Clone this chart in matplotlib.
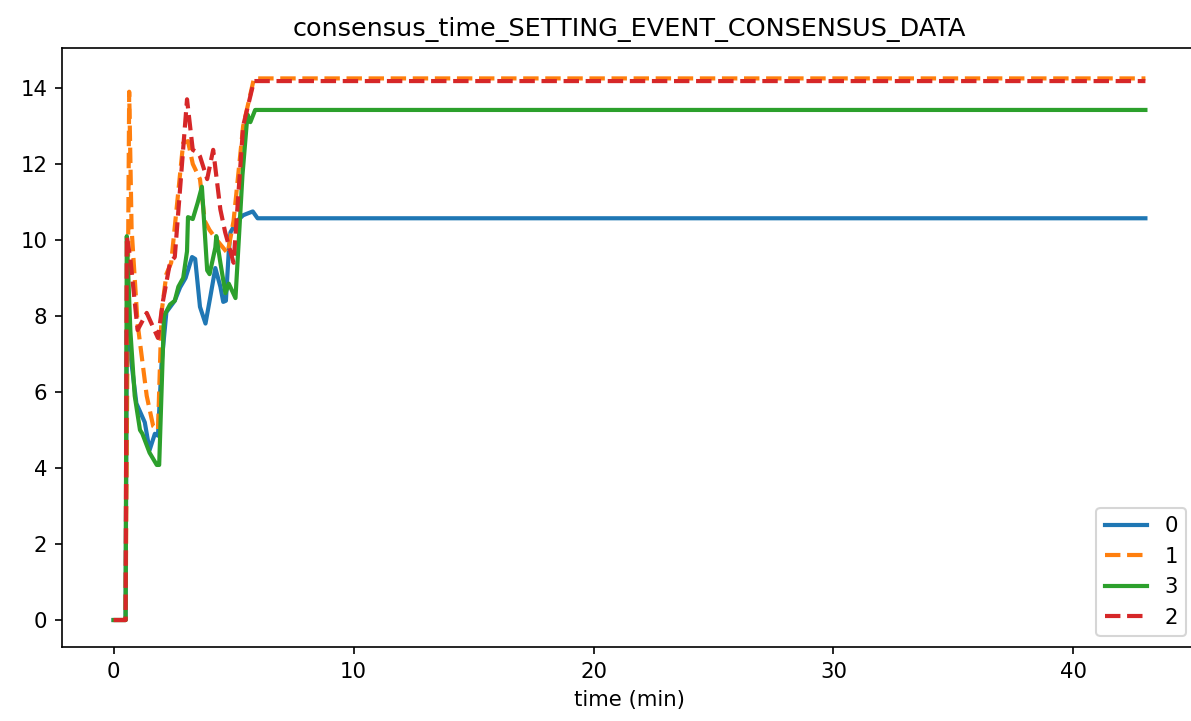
import matplotlib
matplotlib.use("Agg")
import matplotlib.pyplot as plt

title = "consensus_time_SETTING_EVENT_CONSENSUS_DATA"
xlabel = "time (min)"
t_end = 43.0

# series "0"
x0 = [0, 0.5, 0.55, 0.7, 0.95, 1.3, 1.5, 1.72, 1.85, 2.0, 2.2, 2.55, 2.77, 3.0, 3.27, 3.4,
      3.6, 3.83, 4.03, 4.24, 4.45, 4.57, 4.68, 4.8, 4.87, 5.15, 5.4, 5.6, 5.8, 6.0, t_end]
y0 = [0, 0, 7.6, 7.0, 5.7, 5.2, 4.47, 4.9, 4.85, 6.76, 8.1, 8.4, 8.75, 9.0, 9.55, 9.5,
      8.24, 7.8, 8.5, 9.26, 8.77, 8.37, 8.4, 9.7, 10.2, 10.5, 10.65, 10.7, 10.75, 10.57, 10.57]

# series "1"
x1 = [0, 0.5, 0.65, 0.75, 1.0, 1.38, 1.65, 1.85, 2.0, 2.2, 2.4, 2.9, 3.1, 3.3, 3.6, 3.8,
      4.0, 4.3, 4.75, 5.0, 5.4, 5.85, t_end]
y1 = [0, 0, 13.9, 10.3, 7.8, 5.9, 5.1, 5.0, 8.1, 9.1, 9.4, 12.55, 12.6, 12.0, 11.6, 10.5,
      10.26, 10.0, 9.65, 10.5, 13.0, 14.25, 14.25]

# series "3"
x3 = [0, 0.5, 0.55, 0.7, 0.88, 1.1, 1.2, 1.5, 1.8, 1.9, 2.1, 2.35, 2.55, 2.7, 2.9, 3.06,
      3.1, 3.3, 3.5, 3.68, 3.9, 4.0, 4.24, 4.28, 4.45, 4.66, 4.8, 5.08, 5.37, 5.58, 5.7, 5.9, t_end]
y3 = [0, 0, 10.1, 7.6, 5.9, 5.0, 4.9, 4.4, 4.08, 4.08, 8.0, 8.3, 8.4, 8.77, 9.0, 9.7,
      10.6, 10.55, 10.97, 11.4, 9.2, 9.1, 9.8, 10.1, 9.4, 8.6, 8.85, 8.47, 11.7, 13.3, 13.1, 13.42, 13.42]

# series "2"
x2 = [0, 0.5, 0.55, 0.7, 1.0, 1.38, 1.85, 2.06, 2.35, 2.55, 3.06, 3.3, 3.5, 3.6, 3.9,
      4.15, 4.45, 4.65, 5.0, 5.4, 5.85, t_end]
y2 = [0, 0, 10.1, 9.5, 7.63, 8.08, 7.42, 8.4, 9.4, 9.55, 13.7, 12.37, 12.3, 12.2, 11.6,
      12.37, 10.8, 10.2, 9.4, 13.0, 14.18, 14.18]

W, H, DPI = 1191, 721, 150
plt.rcParams["font.size"] = 10.2
fig = plt.figure(figsize=(W / DPI, H / DPI), dpi=DPI)
ax = fig.add_axes([62 / W, 1 - 647 / H, (1197 - 62) / W, (647 - 48) / H])

ax.plot(x0, y0, color="#1f77b4", lw=2, label="0")
ax.plot(x1, y1, color="#ff7f0e", lw=2, ls="--", label="1")
ax.plot(x3, y3, color="#2ca02c", lw=2, label="3")
ax.plot(x2, y2, color="#d62728", lw=2, ls="--", label="2")

ax.set_ylim(-0.71, 15.05)
ax.set_title(title)
ax.set_xlabel(xlabel)
ax.legend(loc="lower right")

fig.savefig("out.png", dpi=DPI)
